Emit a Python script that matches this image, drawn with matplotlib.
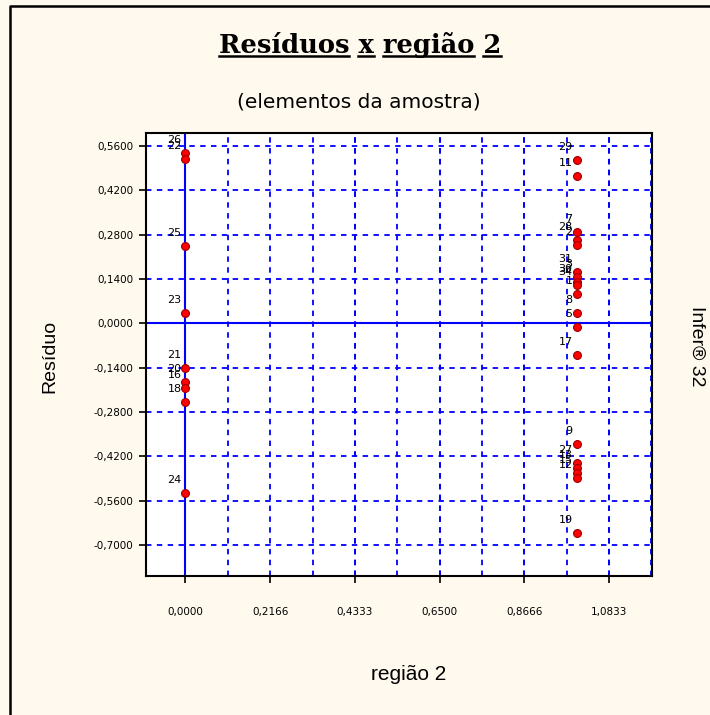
import matplotlib
matplotlib.use('Agg')
import matplotlib.pyplot as plt
from matplotlib.lines import Line2D
from matplotlib.ticker import FuncFormatter, MultipleLocator

# residuals of each sample element against "região 2" (0 or 1)
ids = ['26', '22', '25', '23', '21', '20', '16', '18', '24',
       '29', '11', '7', '28', '2', '31', '3', '30', '34', '1', '8', '5',
       '17', '9', '27', '13', '15', '12', '19']
regiao2 = [0, 0, 0, 0, 0, 0, 0, 0, 0,
           1, 1, 1, 1, 1, 1, 1, 1, 1, 1, 1, 1,
           1, 1, 1, 1, 1, 1, 1]
residuo = [0.537, 0.518, 0.243, 0.032, -0.142, -0.186, -0.205, -0.247, -0.537,
           0.517, 0.466, 0.289, 0.262, 0.247, 0.162, 0.146, 0.131, 0.120, 0.094, 0.033, -0.012,
           -0.101, -0.382, -0.442, -0.458, -0.474, -0.490, -0.661]

xticks = [0.0, 0.2166, 0.4333, 0.65, 0.8666, 1.0833]
yticks = [-0.70, -0.56, -0.42, -0.28, -0.14, 0.0, 0.14, 0.28, 0.42, 0.56]

bg = '#fff9ee'
fig = plt.figure(figsize=(7.1, 7.15), dpi=100, facecolor=bg)
ax = fig.add_axes([0.2056, 0.1944, 0.7127, 0.6196])
ax.set_facecolor('white')

ax.set_xlim(-0.101, 1.193)
ax.set_ylim(-0.798, 0.601)
ax.set_xticks(xticks)
ax.set_yticks(yticks)
ax.xaxis.set_minor_locator(MultipleLocator(0.2166 / 2))
ax.tick_params(which='minor', length=0)
ax.tick_params(which='major', direction='out', length=5, width=1.2, labelsize=7.5)
ax.tick_params(axis='x', pad=17)
ax.tick_params(axis='y', pad=4)

fmt = FuncFormatter(lambda v, p: ('%.4f' % v).replace('.', ',').replace('-0,0000', '0,0000'))
ax.xaxis.set_major_formatter(fmt)
ax.yaxis.set_major_formatter(fmt)

ax.grid(True, which='both', axis='x', color='#0000ff', lw=1.3, ls=(0, (3, 3)))
ax.grid(True, which='major', axis='y', color='#0000ff', lw=1.3, ls=(0, (3, 3)))
ax.axvline(0, color='#0000ff', lw=1.5)
ax.axhline(0, color='#0000ff', lw=1.5)

for s in ax.spines.values():
    s.set_linewidth(1.5)
    s.set_color('black')

ax.scatter(regiao2, residuo, s=32, marker='o', c='#ff0000', edgecolors='#990000',
           linewidths=0.8, zorder=5)
for i in range(len(ids)):
    ax.annotate(ids[i], (regiao2[i], residuo[i]), xytext=(-4, 8), textcoords='offset pixels',
                ha='right', va='bottom', fontsize=8, zorder=6)

# texts around the plot
title = 'Resíduos x região 2'
tprops = dict(family='DejaVu Serif', weight='bold', size=18.5)
t = fig.text(0.507, 0.937, title, ha='center', va='center', **tprops)
fig.text(0.505, 0.857, '(elementos da amostra)', ha='center', va='center', fontsize=14.5,
         family='DejaVu Sans')
fig.text(0.576, 0.056, 'região 2', ha='center', va='center', fontsize=15, family='Liberation Sans')
fig.text(0.07, 0.502, 'Resíduo', ha='center', va='center', rotation=90, fontsize=14,
         family='Liberation Sans')
fig.text(0.981, 0.516, 'Infer® 32', ha='center', va='center', rotation=-90, fontsize=14,
         family='Liberation Sans')

# underline every word of the title
r = fig.canvas.get_renderer()
bb = t.get_window_extent(r)
def width(s):
    tmp = fig.text(0, 0, s, **tprops)
    w = tmp.get_window_extent(r).width
    tmp.remove()
    return w
_, _, desc = r.get_text_width_height_descent(title, t.get_fontproperties(), ismath=False)
base = bb.y0 + desc - 3
pos = 0
for word in title.split(' '):
    start = title.find(word, pos)
    end = start + len(word)
    pos = end
    x1 = bb.x0 + width(title[:end])
    x0 = x1 - width(word)
    fig.add_artist(Line2D([x0 / 710, x1 / 710], [base / 715, base / 715],
                          transform=fig.transFigure, color='black', lw=1.8))

# window frame at left and top
fig.add_artist(Line2D([9.5 / 710, 9.5 / 710, 1], [0, 1 - 6 / 715, 1 - 6 / 715],
                      transform=fig.transFigure, color='black', lw=1.8))

fig.savefig('out.png', dpi=100, facecolor=bg)
